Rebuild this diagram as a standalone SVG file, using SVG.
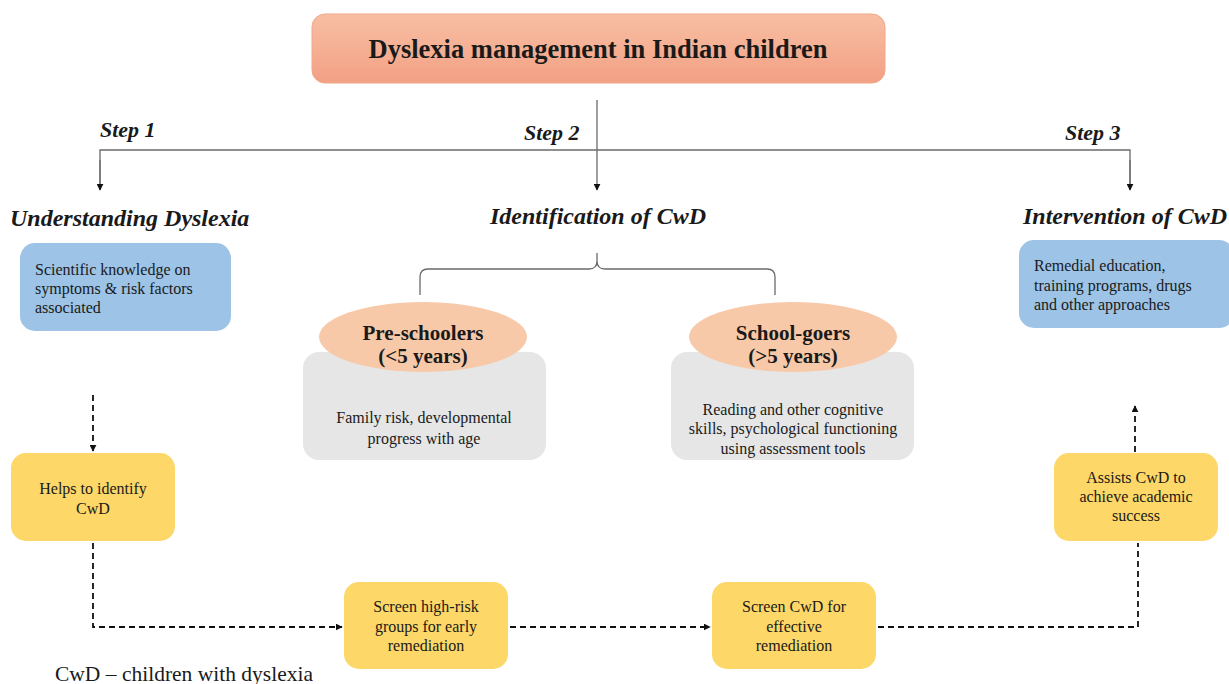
<svg xmlns="http://www.w3.org/2000/svg" width="1229" height="684" viewBox="0 0 1229 684">
<style>
text{font-family:"Liberation Serif","Times New Roman",serif;fill:#1a1a1a}
.step{font-size:22px;font-weight:bold;font-style:italic}
.head{font-size:24px;font-weight:bold;font-style:italic}
.body{font-size:16px}
.ell{font-size:21px;font-weight:bold;text-anchor:middle}
.mid{text-anchor:middle}
.solid{stroke:#6b6b6b;stroke-width:1.3;fill:none}
.dash{stroke:#111;stroke-width:1.8;fill:none;stroke-dasharray:6 4}
.blue{fill:#9dc3e6}
.grey{fill:#e6e6e6}
.yellow{fill:#fdd767}
.oval{fill:#f8c9a8}
</style>
<defs>
<linearGradient id="tg" x1="0" y1="0" x2="0" y2="1">
<stop offset="0" stop-color="#f8bfa3"/>
<stop offset="1" stop-color="#f3a084"/>
</linearGradient>
<marker id="ah" viewBox="0 0 10 10" refX="9" refY="5" markerWidth="7" markerHeight="7" orient="auto" markerUnits="userSpaceOnUse">
<path d="M0,0 L10,5 L0,10 z" fill="#111"/>
</marker>
</defs>

<g id="title">
<rect x="312" y="14" width="573" height="69" rx="13" fill="url(#tg)" stroke="#f0a88a" stroke-width="1"/>
<text x="598" y="58" class="mid" style="font-size:26.5px;font-weight:bold">Dyslexia management in Indian children</text>
</g>

<g id="connectors">
<path class="solid" d="M597,100 V190" marker-end="url(#ah)"/>
<path class="solid" d="M100,190 V150 H1130 V190" />
<path class="solid" d="M100,160 V190" marker-end="url(#ah)"/>
<path class="solid" d="M1130,160 V190" marker-end="url(#ah)"/>
<path class="solid" d="M420,295 V277 Q420,269 428,269 H589 Q597,269 597,261 V253 M597,261 Q597,269 605,269 H767 Q775,269 775,277 V295"/>
<path class="dash" d="M93,395 V451" marker-end="url(#ah)"/>
<path class="dash" d="M93,543 V627 H342" marker-end="url(#ah)"/>
<path class="dash" d="M510,627 H710" marker-end="url(#ah)"/>
<path class="dash" d="M878,627 H1138 V543"/>
<path class="dash" d="M1135,452 V406" marker-end="url(#ah)"/>
</g>

<g id="step1"><text x="100" y="137" class="step">Step 1</text></g>
<g id="step2"><text x="524" y="140" class="step">Step 2</text></g>
<g id="step3"><text x="1065" y="140" class="step">Step 3</text></g>

<g id="understanding">
<text x="10" y="226" class="head">Understanding Dyslexia</text>
<rect x="20" y="243" width="211" height="88" rx="15" class="blue"/>
<text class="body" x="35" y="275">Scientific knowledge on</text>
<text class="body" x="35" y="294">symptoms &amp; risk factors</text>
<text class="body" x="35" y="313">associated</text>
</g>

<g id="identification">
<text x="598" y="224" class="head mid">Identification of CwD</text>
</g>

<g id="intervention">
<text x="1023" y="224" class="head">Intervention of CwD</text>
<rect x="1019" y="240" width="215" height="88" rx="15" class="blue"/>
<text class="body" x="1034" y="271">Remedial education,</text>
<text class="body" x="1034" y="291">training programs, drugs</text>
<text class="body" x="1034" y="310">and other approaches</text>
</g>

<g id="preschoolers">
<rect x="303" y="352" width="243" height="108" rx="16" class="grey"/>
<ellipse cx="423" cy="337" rx="104" ry="35" class="oval"/>
<text class="ell" x="423" y="340">Pre-schoolers</text>
<text class="ell" x="423" y="363">(&lt;5 years)</text>
<text class="body mid" x="424" y="423">Family risk, developmental</text>
<text class="body mid" x="424" y="444">progress with age</text>
</g>

<g id="schoolgoers">
<rect x="671" y="352" width="243" height="108" rx="16" class="grey"/>
<ellipse cx="793" cy="337" rx="104" ry="35" class="oval"/>
<text class="ell" x="793" y="340">School-goers</text>
<text class="ell" x="793" y="363">(&gt;5 years)</text>
<text class="body mid" x="793" y="415">Reading and other cognitive</text>
<text class="body mid" x="793" y="434">skills, psychological functioning</text>
<text class="body mid" x="793" y="454">using assessment tools</text>
</g>

<g id="helps">
<rect x="11" y="453" width="164" height="88" rx="15" class="yellow"/>
<text class="body mid" x="93" y="494">Helps to identify</text>
<text class="body mid" x="93" y="514">CwD</text>
</g>

<g id="screen-high-risk">
<rect x="344" y="582" width="164" height="87" rx="15" class="yellow"/>
<text class="body mid" x="426" y="612">Screen high-risk</text>
<text class="body mid" x="426" y="632">groups for early</text>
<text class="body mid" x="426" y="651">remediation</text>
</g>

<g id="screen-cwd">
<rect x="712" y="582" width="164" height="87" rx="15" class="yellow"/>
<text class="body mid" x="794" y="612">Screen CwD for</text>
<text class="body mid" x="794" y="632">effective</text>
<text class="body mid" x="794" y="651">remediation</text>
</g>

<g id="assists">
<rect x="1054" y="453" width="164" height="88" rx="15" class="yellow"/>
<text class="body mid" x="1136" y="483">Assists CwD to</text>
<text class="body mid" x="1136" y="502">achieve academic</text>
<text class="body mid" x="1136" y="521">success</text>
</g>

<g id="footnote">
<text x="55" y="681" style="font-size:21.5px">CwD – children with dyslexia</text>
</g>
</svg>
